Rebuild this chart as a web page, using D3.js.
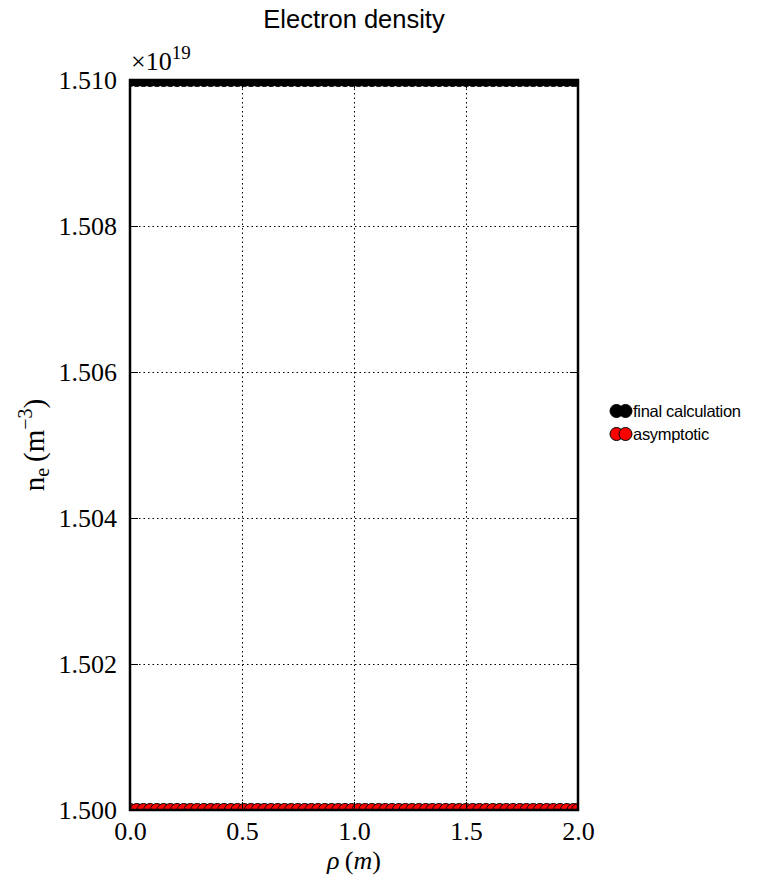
<!DOCTYPE html>
<html>
<head>
<meta charset="utf-8">
<script src="https://cdn.jsdelivr.net/npm/d3@7"></script>
<style>
  html, body { margin: 0; padding: 0; background: #fff; }
  svg { display: block; }
</style>
</head>
<body>
<div id="chart"></div>
<script>
// Radial grid (m)
const rho = [
  0.00, 0.03, 0.06, 0.09, 0.12, 0.15, 0.18, 0.21, 0.24, 0.27, 0.30, 0.33,
  0.36, 0.39, 0.42, 0.45, 0.48, 0.51, 0.54, 0.57, 0.60, 0.63, 0.66, 0.69,
  0.72, 0.75, 0.78, 0.81, 0.84, 0.87, 0.90, 0.93, 0.96, 0.99, 1.02, 1.05,
  1.08, 1.11, 1.14, 1.17, 1.20, 1.23, 1.26, 1.29, 1.32, 1.35, 1.38, 1.41,
  1.44, 1.47, 1.50, 1.53, 1.56, 1.59, 1.62, 1.65, 1.68, 1.71, 1.74, 1.77,
  1.80, 1.83, 1.86, 1.89, 1.92, 1.95, 1.98, 2.00
];
// Electron density, in units of 1e19 m^-3
const finalCalculation = [
  1.510, 1.510, 1.510, 1.510, 1.510, 1.510, 1.510, 1.510, 1.510, 1.510, 1.510, 1.510,
  1.510, 1.510, 1.510, 1.510, 1.510, 1.510, 1.510, 1.510, 1.510, 1.510, 1.510, 1.510,
  1.510, 1.510, 1.510, 1.510, 1.510, 1.510, 1.510, 1.510, 1.510, 1.510, 1.510, 1.510,
  1.510, 1.510, 1.510, 1.510, 1.510, 1.510, 1.510, 1.510, 1.510, 1.510, 1.510, 1.510,
  1.510, 1.510, 1.510, 1.510, 1.510, 1.510, 1.510, 1.510, 1.510, 1.510, 1.510, 1.510,
  1.510, 1.510, 1.510, 1.510, 1.510, 1.510, 1.510, 1.510
];
const asymptotic = [
  1.500, 1.500, 1.500, 1.500, 1.500, 1.500, 1.500, 1.500, 1.500, 1.500, 1.500, 1.500,
  1.500, 1.500, 1.500, 1.500, 1.500, 1.500, 1.500, 1.500, 1.500, 1.500, 1.500, 1.500,
  1.500, 1.500, 1.500, 1.500, 1.500, 1.500, 1.500, 1.500, 1.500, 1.500, 1.500, 1.500,
  1.500, 1.500, 1.500, 1.500, 1.500, 1.500, 1.500, 1.500, 1.500, 1.500, 1.500, 1.500,
  1.500, 1.500, 1.500, 1.500, 1.500, 1.500, 1.500, 1.500, 1.500, 1.500, 1.500, 1.500,
  1.500, 1.500, 1.500, 1.500, 1.500, 1.500, 1.500, 1.500
];
const xTicks = [0.0, 0.5, 1.0, 1.5, 2.0];
const yTicks = [1.500, 1.502, 1.504, 1.506, 1.508, 1.510];
const seriesNames = ["final calculation", "asymptotic"];
const seriesColors = ["#000000", "#ff0000"];

const W = 764, H = 886;
const m = { left: 130, top: 80, right: 186, bottom: 76 };
const pw = W - m.left - m.right, ph = H - m.top - m.bottom;

const svg = d3.select("#chart").append("svg").attr("width", W).attr("height", H);
const serif = "'Liberation Serif', 'DejaVu Serif', serif";
const sans = "'Liberation Sans', Arial, sans-serif";

const x = d3.scaleLinear().domain([0, 2]).range([0, pw]);
const y = d3.scaleLinear().domain([1.500, 1.510]).range([ph, 0]);

const g = svg.append("g").attr("transform", `translate(${m.left},${m.top})`);

g.append("clipPath").attr("id", "plotclip")
  .append("rect").attr("width", pw).attr("height", ph);

// dotted grid
const gridX = g.append("g").attr("transform", `translate(0,${ph})`)
  .call(d3.axisBottom(x).tickValues(xTicks).tickSize(-ph).tickFormat(""));
const gridY = g.append("g")
  .call(d3.axisLeft(y).tickValues(yTicks).tickSize(-pw).tickFormat(""));
[gridX, gridY].forEach(a => {
  a.select(".domain").remove();
  a.selectAll("line").attr("stroke", "#000").attr("stroke-width", 1)
    .attr("stroke-dasharray", "1.5,3");
});

// markers
const marks = g.append("g").attr("clip-path", "url(#plotclip)");
const series = [finalCalculation, asymptotic];
series.forEach((vals, si) => {
  marks.append("g").selectAll("circle")
    .data(rho.map((r, i) => [r, vals[i]]))
    .join("circle")
    .attr("cx", d => x(d[0]))
    .attr("cy", d => y(d[1]))
    .attr("r", 6.5)
    .attr("fill", seriesColors[si])
    .attr("stroke", "#000")
    .attr("stroke-width", 1);
});

// ticks: inward on all four sides
const tickLen = 8;
const axB = g.append("g").attr("transform", `translate(0,${ph})`)
  .call(d3.axisBottom(x).tickValues(xTicks).tickSizeInner(-tickLen).tickSizeOuter(0)
    .tickPadding(12).tickFormat(d3.format(".1f")));
const axT = g.append("g")
  .call(d3.axisTop(x).tickValues(xTicks).tickSizeInner(-tickLen).tickSizeOuter(0).tickFormat(""));
const axL = g.append("g")
  .call(d3.axisLeft(y).tickValues(yTicks).tickSizeInner(-tickLen).tickSizeOuter(0)
    .tickPadding(13).tickFormat(d3.format(".3f")));
const axR = g.append("g").attr("transform", `translate(${pw},0)`)
  .call(d3.axisRight(y).tickValues(yTicks).tickSizeInner(-tickLen).tickSizeOuter(0).tickFormat(""));
[axB, axT, axL, axR].forEach(a => {
  a.select(".domain").remove();
  a.selectAll("line").attr("stroke", "#000").attr("stroke-width", 1);
  a.selectAll("text").attr("font-family", serif).attr("font-size", 26).attr("fill", "#000");
});
axL.selectAll("text").attr("dy", "0.33em");

// frame
g.append("rect").attr("width", pw).attr("height", ph)
  .attr("fill", "none").attr("stroke", "#000").attr("stroke-width", 2.5);

// offset text
const off = svg.append("text").attr("x", 131).attr("y", 70)
  .attr("font-family", serif).attr("font-size", 26).attr("fill", "#000");
off.append("tspan").text("\u00d710");
off.append("tspan").attr("font-size", 19).attr("dy", -11).text("19");

// title
svg.append("text").attr("x", m.left + pw / 2).attr("y", 28)
  .attr("text-anchor", "middle").attr("font-family", sans).attr("font-size", 25.5)
  .attr("fill", "#000").text("Electron density");

// x label
const xl = svg.append("text").attr("x", m.left + pw / 2).attr("y", 869)
  .attr("text-anchor", "middle").attr("font-family", serif).attr("font-size", 26).attr("fill", "#000");
xl.append("tspan").attr("font-style", "italic").text("\u03c1");
xl.append("tspan").text("\u2009(");
xl.append("tspan").attr("font-style", "italic").text("m");
xl.append("tspan").text(")");

// y label
const yl = svg.append("text")
  .attr("transform", `translate(44,${m.top + ph / 2}) rotate(-90)`)
  .attr("text-anchor", "middle").attr("font-family", serif).attr("font-size", 29).attr("fill", "#000");
yl.append("tspan").text("n");
yl.append("tspan").attr("font-size", 20).attr("dy", 5).text("e");
yl.append("tspan").attr("dy", -5).text("\u2009(m");
yl.append("tspan").attr("font-size", 20).attr("dy", -12).text("\u22123");
yl.append("tspan").attr("dy", 12).text(")");

// legend
const legend = svg.append("g");
const rowsY = [411, 434];
seriesNames.forEach((name, i) => {
  const row = legend.append("g").attr("transform", `translate(0,${rowsY[i]})`);
  [616.5, 625.5].forEach(cx => {
    row.append("circle").attr("cx", cx).attr("cy", 0).attr("r", 6.5)
      .attr("fill", seriesColors[i]).attr("stroke", "#000").attr("stroke-width", 1);
  });
  row.append("text").attr("x", 633).attr("y", 5.5)
    .attr("font-family", sans).attr("font-size", 16.5).attr("letter-spacing", -0.3)
    .attr("fill", "#000").text(name);
});
</script>
</body>
</html>
